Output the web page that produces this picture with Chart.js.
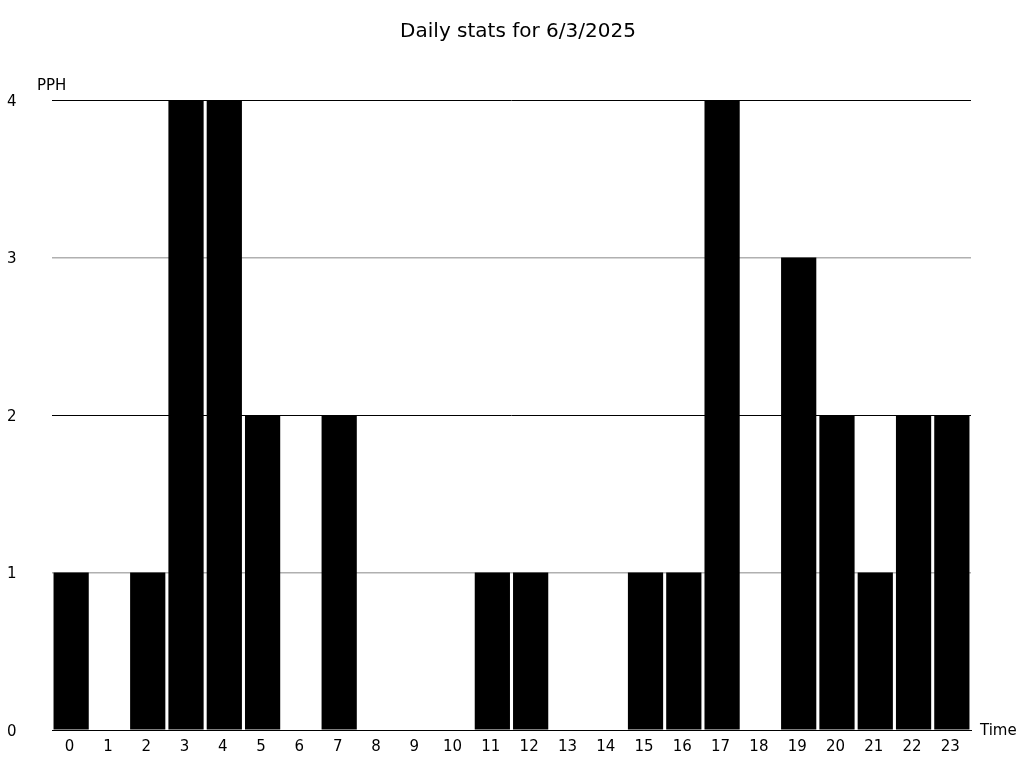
<!DOCTYPE html>
<html>
<head>
<meta charset="utf-8">
<script src="https://cdn.jsdelivr.net/npm/chart.js@4/dist/chart.umd.min.js"></script>
<style>
  html, body { margin: 0; padding: 0; background: #fff; }
  #wrap { width: 1024px; height: 768px; }
</style>
</head>
<body>
<div id="wrap"><canvas id="chart" width="1024" height="768"></canvas></div>
<script>
const hours = ['0','1','2','3','4','5','6','7','8','9','10','11','12','13','14','15','16','17','18','19','20','21','22','23'];
const pph = [1, 0, 1, 4, 4, 2, 0, 2, 0, 0, 0, 1, 1, 0, 0, 1, 1, 4, 0, 3, 2, 1, 2, 2];
const yTicks = [0, 1, 2, 3, 4];
const titleText = 'Daily stats for 6/3/2025';
const yLabel = 'PPH';
const xLabel = 'Time';

const FONT = '"DejaVu Sans", sans-serif';

// titles and axis names drawn on the canvas
const labelsPlugin = {
  id: 'labels',
  afterDraw(chart) {
    const { ctx, chartArea } = chart;
    ctx.save();
    ctx.fillStyle = '#000';
    ctx.textBaseline = 'middle';
    ctx.font = '20px ' + FONT;
    ctx.textAlign = 'center';
    ctx.fillText(titleText, 518, 32);
    ctx.font = '15px ' + FONT;
    ctx.textAlign = 'left';
    ctx.fillText(yLabel, 37, chartArea.top - 14);
    ctx.fillText(xLabel, chartArea.right + 9, chartArea.bottom + 1);
    ctx.restore();
  }
};

new Chart(document.getElementById('chart'), {
  type: 'bar',
  data: {
    labels: hours,
    datasets: [{
      data: pph,
      backgroundColor: '#000',
      borderWidth: 0,
      barPercentage: 0.92,
      categoryPercentage: 1.0
    }]
  },
  options: {
    responsive: false,
    animation: false,
    layout: { padding: { top: 100, left: 7, right: 53, bottom: 0 } },
    plugins: {
      legend: { display: false },
      title: { display: false },
      tooltip: { enabled: false }
    },
    scales: {
      x: {
        grid: { display: false, drawTicks: false },
        border: { display: true, color: '#000', width: 1 },
        ticks: { color: '#000', font: { family: FONT, size: 15 }, padding: 8, labelOffset: -1.5, maxRotation: 0, autoSkip: false },
        afterFit(scale) { scale.height = 38; }
      },
      y: {
        min: 0,
        max: 4,
        afterBuildTicks(scale) { scale.ticks = yTicks.map(v => ({ value: v })); },
        grid: {
          drawTicks: false,
          color: c => (c.tick && c.tick.value % 2 === 0) ? '#000' : '#b0b0b0',
          lineWidth: c => (c.tick && c.tick.value % 2 === 0) ? 1 : 1.4
        },
        border: { display: false },
        ticks: { color: '#000', font: { family: FONT, size: 15 }, crossAlign: 'far', padding: 0, labelOffset: 2 },
        afterFit(scale) { scale.width = 45; }
      }
    }
  },
  plugins: [labelsPlugin]
});
</script>
</body>
</html>
